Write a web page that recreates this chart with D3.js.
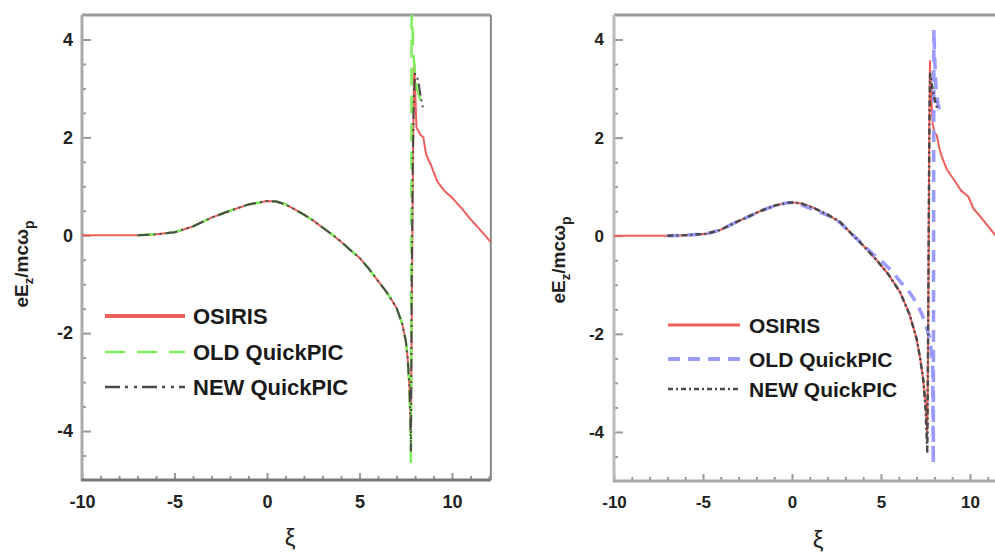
<!DOCTYPE html>
<html>
<head>
<meta charset="utf-8">
<script src="https://cdn.jsdelivr.net/npm/d3@7"></script>
<style>
    body { margin: 0; background: #fff; }
    svg { display: block; }
    text { font-family: "Liberation Sans", Arial, sans-serif; }
</style>
</head>
<body>
<div id="chart"></div>
<script>
// data, [xi, eEz/mcwp]
const osirisLeft = [[-10,0],[-7,0],[-6,0.02],[-5,0.06],[-4,0.18],[-3,0.36],[-2,0.5],[-1,0.63],[0,0.7],[0.5,0.69],[1,0.63],
    [1.5,0.53],[2,0.42],[2.5,0.3],[3,0.16],[3.5,0.02],[4,-0.13],[4.5,-0.3],[5,-0.46],[5.5,-0.68],[6,-0.93],[6.5,-1.18],
    [7,-1.48],[7.3,-1.8],[7.5,-2.15],[7.6,-2.5],[7.7,-3.1],[7.75,-3.7],[7.78,-4.1],[7.8,-3.0],[7.84,-1.0],[7.88,1.0],
    [7.92,2.6],[7.96,3.5],[8.0,3.1],[8.08,2.2],[8.3,2.05],[8.45,2.0],[8.6,1.65],[8.9,1.4],[9.2,1.1],[9.6,0.9],[10,0.77],
    [10.5,0.56],[11,0.33],[11.5,0.12],[12.1,-0.14]];
const oldLeft = [[-7,0],[-6,0.02],[-5,0.06],[-4,0.18],[-3,0.36],[-2,0.5],[-1,0.63],[0,0.7],[0.5,0.69],[1,0.63],
    [1.5,0.53],[2,0.42],[2.5,0.3],[3,0.16],[3.5,0.02],[4,-0.13],[4.5,-0.3],[5,-0.46],[5.5,-0.68],[6,-0.93],[6.5,-1.18],
    [7,-1.48],[7.3,-1.8],[7.5,-2.15],[7.6,-2.5],[7.7,-3.1],[7.74,-3.8],[7.78,-4.63],[7.8,-1.0],[7.82,4.8],[7.9,3.8],
    [7.98,3.4],[8.1,3.0],[8.3,2.75],[8.45,2.55]];
const newLeft = [[-7,0],[-6,0.02],[-5,0.06],[-4,0.18],[-3,0.36],[-2,0.5],[-1,0.63],[0,0.7],[0.5,0.69],[1,0.63],
    [1.5,0.53],[2,0.42],[2.5,0.3],[3,0.16],[3.5,0.02],[4,-0.13],[4.5,-0.3],[5,-0.46],[5.5,-0.68],[6,-0.93],[6.5,-1.18],
    [7,-1.48],[7.3,-1.8],[7.5,-2.15],[7.6,-2.5],[7.7,-3.1],[7.75,-3.8],[7.78,-4.4],[7.82,-1.0],[7.88,1.5],[7.94,2.8],
    [8.0,3.3],[8.1,3.25],[8.2,3.1],[8.3,2.85],[8.43,2.6]];

const osirisRight = [[-10,0],[-7.2,0],[-6,0.01],[-4.8,0.04],[-4,0.12],[-3.3,0.25],[-2.5,0.38],[-1.8,0.5],[-1,0.61],
    [-0.3,0.67],[0.1,0.68],[0.6,0.65],[1.2,0.57],[2,0.43],[2.7,0.28],[3.4,0.02],[4,-0.2],[4.76,-0.5],[5.4,-0.78],
    [6.07,-1.15],[6.6,-1.6],[7.0,-2.1],[7.2,-2.5],[7.38,-2.96],[7.5,-3.4],[7.6,-4.05],[7.64,-2.5],[7.68,0],[7.72,2.5],
    [7.75,3.56],[7.8,3.0],[7.9,2.3],[8.0,2.1],[8.13,2.05],[8.3,1.75],[8.41,1.62],[8.7,1.35],[9.16,1.11],[9.5,0.92],
    [9.9,0.8],[10.2,0.55],[10.56,0.4],[11,0.2],[11.4,0.02],[12.1,-0.3]];
const oldRight = [[-7,0],[-6,0.01],[-4.8,0.04],[-4,0.12],[-3.3,0.25],[-2.5,0.38],[-1.8,0.5],[-1,0.61],[-0.3,0.67],
    [0.1,0.68],[0.6,0.62],[1.2,0.53],[2,0.42],[2.7,0.27],[3.4,0.02],[4,-0.18],[4.5,-0.36],[5.04,-0.52],[5.6,-0.72],
    [6.1,-0.94],[6.6,-1.15],[7.0,-1.37],[7.3,-1.6],[7.53,-1.84],[7.75,-2.1],[7.9,-2.6],[7.94,-4.65],[7.97,4.2],
    [8.03,3.5],[8.1,2.9],[8.2,2.7],[8.3,2.55]];
const newRight = [[-7,0],[-6,0.01],[-4.8,0.04],[-4,0.12],[-3.3,0.25],[-2.5,0.38],[-1.8,0.5],[-1,0.61],[-0.3,0.67],
    [0.1,0.68],[0.6,0.65],[1.2,0.57],[2,0.43],[2.7,0.28],[3.4,0.02],[4,-0.2],[4.76,-0.5],[5.4,-0.78],[6.07,-1.15],
    [6.6,-1.6],[7.0,-2.1],[7.2,-2.5],[7.38,-2.96],[7.5,-3.5],[7.6,-4.4],[7.64,-2.5],[7.68,0],[7.72,2.3],[7.76,3.3],
    [7.85,3.1],[8.0,2.8],[8.2,2.55]];

const seriesNames = ['OSIRIS', 'OLD QuickPIC', 'NEW QuickPIC'];
const xTicks = [-10, -5, 0, 5, 10];
const xMinorTicks = d3.range(-9, 13, 1).filter(function (d) { return d % 5 !== 0; });
const yTicks = [-4, -2, 0, 2, 4];
const yMinorTicks = [-4.5, -3.5, -3, -2.5, -1.5, -1, -0.5, 0.5, 1, 1.5, 2.5, 3, 3.5];

const W = 995, H = 552;

let svg = d3.select('#chart').append('svg')
    .attr('width', W)
    .attr('height', H);

function drawPanel(p) {
    let x = d3.scaleLinear().domain([-10, 12.1]).range([p.left, p.left + 22.1 * p.unit]);
    let y = d3.scaleLinear().domain([-5, 4.5]).range([p.bottom, p.top]);
    let g = svg.append('g');

    g.append('clipPath').attr('id', p.id + 'clip')
        .append('rect')
        .attr('x', p.left).attr('y', p.top)
        .attr('width', Math.min(x(12.1), W) - p.left)
        .attr('height', p.bottom - p.top);

    // ticks (inside)
    let xa = g.append('g').attr('transform', 'translate(0,' + p.bottom + ')')
        .call(d3.axisBottom(x).tickValues(xTicks).tickSize(-7).tickPadding(15)
            .tickFormat(function (d) { return String(d); }));
    let xm = g.append('g').attr('transform', 'translate(0,' + p.bottom + ')')
        .call(d3.axisBottom(x).tickValues(xMinorTicks).tickSize(-4).tickFormat(''));
    let ya = g.append('g').attr('transform', 'translate(' + p.left + ',0)')
        .call(d3.axisLeft(y).tickValues(yTicks).tickSize(-9).tickPadding(p.ypad)
            .tickFormat(function (d) { return String(d); }));
    let ym = g.append('g').attr('transform', 'translate(' + p.left + ',0)')
        .call(d3.axisLeft(y).tickValues(yMinorTicks).tickSize(-4).tickFormat(''));

    [xa, xm, ya, ym].forEach(function (a) {
        a.select('.domain').remove();
        a.selectAll('line').attr('stroke', '#999').attr('stroke-width', 2);
        a.selectAll('text')
            .attr('fill', '#222')
            .style('font-size', p.tickFont + 'px')
            .style('font-weight', 'bold');
    });

    // frame
    g.append('line').attr('x1', p.left).attr('x2', Math.min(x(12.1), W)).attr('y1', p.top).attr('y2', p.top)
        .attr('stroke', '#999').attr('stroke-width', 3);
    g.append('line').attr('x1', p.left).attr('x2', p.left).attr('y1', p.top).attr('y2', p.bottom + 1)
        .attr('stroke', p.leftAxisColor).attr('stroke-width', 3);
    g.append('line').attr('x1', p.left - 1).attr('x2', Math.min(x(12.1), W)).attr('y1', p.bottom).attr('y2', p.bottom)
        .attr('stroke', p.bottomAxisColor).attr('stroke-width', 3);
    if (x(12.1) < W) {
        g.append('line').attr('x1', x(12.1)).attr('x2', x(12.1)).attr('y1', p.top).attr('y2', p.bottom)
            .attr('stroke', '#888').attr('stroke-width', 2);
    }

    let line = d3.line()
        .x(function (d) { return x(d[0]); })
        .y(function (d) { return y(d[1]); });

    let plot = g.append('g').attr('clip-path', 'url(#' + p.id + 'clip)');
    p.series.forEach(function (s) {
        plot.append('path')
            .datum(s.data)
            .attr('d', line)
            .attr('fill', 'none')
            .attr('stroke', s.color)
            .attr('stroke-width', s.width)
            .attr('stroke-dasharray', s.dash)
            .attr('stroke-linejoin', 'round');
    });

    // legend
    p.series.forEach(function (s, i) {
        let ly = p.legend.ys[i];
        g.append('line')
            .attr('x1', p.legend.x1).attr('x2', p.legend.x2)
            .attr('y1', ly).attr('y2', ly)
            .attr('stroke', s.color)
            .attr('stroke-width', s.legendWidth)
            .attr('stroke-dasharray', s.legendDash);
        g.append('text')
            .attr('x', p.legend.tx).attr('y', ly)
            .attr('dy', '0.36em')
            .style('font-size', p.legend.font + 'px')
            .style('font-weight', 'bold')
            .attr('fill', '#1a1a1a')
            .text(seriesNames[i]);
    });

    // axis titles
    g.append('text')
        .attr('x', p.xTitle[0]).attr('y', p.xTitle[1])
        .attr('text-anchor', 'middle')
        .style('font-size', '24px')
        .attr('fill', '#222')
        .text('ξ');

    let yt = g.append('text')
        .attr('transform', 'translate(' + p.yTitle[0] + ',' + p.yTitle[1] + ') rotate(-90)')
        .attr('text-anchor', 'middle')
        .style('font-size', '19px')
        .style('font-weight', 'bold')
        .attr('fill', '#222');
    yt.append('tspan').text('eE');
    yt.append('tspan').attr('dy', 5).style('font-size', '13px').text('z');
    yt.append('tspan').attr('dy', -5).text('/mcω');
    yt.append('tspan').attr('dy', 6).style('font-size', '14px').text('p');
}

drawPanel({
    id: 'left', left: 82, unit: 18.5, top: 15, bottom: 480, ypad: 9, tickFont: 18,
    leftAxisColor: '#aaa', bottomAxisColor: '#777',
    xTitle: [290, 546], yTitle: [28, 264],
    legend: { x1: 105, x2: 185, tx: 193, ys: [316, 352, 387], font: 22 },
    series: [
        { data: osirisLeft, color: '#ec5f5a', width: 2, dash: null, legendWidth: 4, legendDash: null },
        { data: oldLeft, color: '#7ded5a', width: 2.5, dash: '18,10', legendWidth: 2.5, legendDash: '20,12' },
        { data: newLeft, color: '#4a4a4a', width: 2, dash: '12,4,2,4,2,4', legendWidth: 2.5, legendDash: '15,5,3,6,3,5' }
    ]
});

drawPanel({
    id: 'right', left: 614, unit: 17.8, top: 15, bottom: 481, ypad: 10, tickFont: 17,
    leftAxisColor: '#bbb', bottomAxisColor: '#aaa',
    xTitle: [818, 548], yTitle: [565, 260],
    legend: { x1: 668, x2: 740, tx: 749, ys: [325, 359, 389], font: 21 },
    series: [
        { data: osirisRight, color: '#ec5f5a', width: 2, dash: null, legendWidth: 3, legendDash: null },
        { data: oldRight, color: '#9a9aff', width: 3.5, dash: '12,8', legendWidth: 4, legendDash: '12,8' },
        { data: newRight, color: '#4a4a4a', width: 2.5, dash: '6,3,2,3', legendWidth: 2.5, legendDash: '5,3,2,3' }
    ]
});
</script>
</body>
</html>
